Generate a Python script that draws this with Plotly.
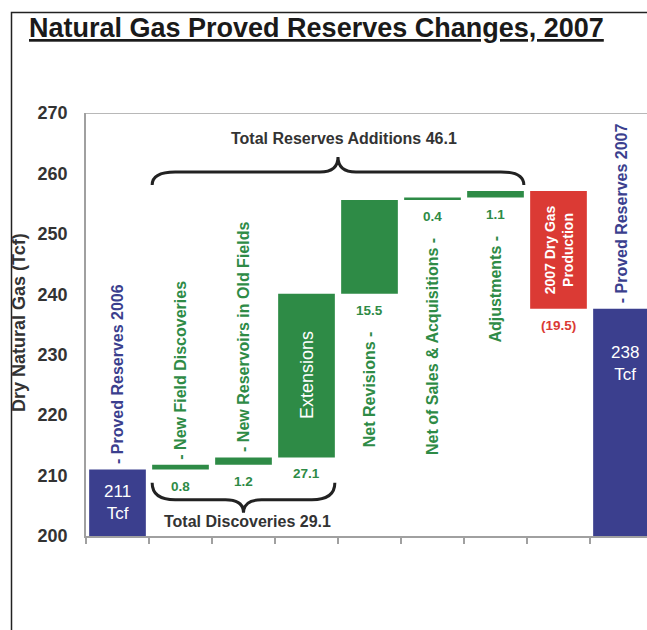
import plotly.graph_objects as go

# ---------------- data ----------------
categories = [
    "Proved Reserves 2006", "New Field Discoveries", "New Reservoirs in Old Fields",
    "Extensions", "Net Revisions", "Net of Sales & Acquisitions", "Adjustments",
    "2007 Dry Gas Production", "Proved Reserves 2007",
]
measures = ["absolute", "relative", "relative", "relative", "relative",
            "relative", "relative", "relative", "total"]
values = [211.0, 0.8, 1.2, 27.1, 15.5, 0.4, 1.1, -19.5, 237.6]
value_labels = ["211<br>Tcf", "0.8", "1.2", "27.1", "15.5", "0.4", "1.1", "(19.5)", "238<br>Tcf"]
name_labels = [
    "- Proved Reserves 2006", "- New Field Discoveries", "- New Reservoirs in Old Fields",
    "Extensions", "Net Revisions -", "Net of Sales & Acquisitions -", "Adjustments -",
    "2007 Dry Gas<br>Production", "- Proved Reserves 2007",
]
label_places = ["above", "above", "above", "inside", "below", "below", "below", "inside", "above"]
y_ticks = [200, 210, 220, 230, 240, 250, 260, 270]
brace_labels = ["Total Reserves Additions 46.1", "Total Discoveries 29.1"]
brace_spans = [(1, 6), (1, 3)]
brace_sides = ["top", "bottom"]
title_text = "Natural Gas Proved Reserves Changes, 2007"
y_title = "Dry Natural Gas (Tcf)"

# ---------------- style ----------------
NAVY = "#3b3f8e"
GREEN = "#2e8b46"
RED = "#db3a34"
DARK = "#222222"
AXIS_GRAY = "#a0a0a0"
FONT = "Liberation Sans, Arial, sans-serif"

W, H = 647, 630
ML, MR, MT, MB = 86, 0, 113, 94
YMIN, YMAX = 200, 270
XMIN = -0.5
CAT_PX = 63.0
XMAX = XMIN + (W - ML - MR) / CAT_PX
PX_PER_Y = (H - MT - MB) / (YMAX - YMIN)
PLOT_W = W - ML - MR
PLOT_H = H - MT - MB

def px_x(px):
    return (px - ML) / PLOT_W

def px_y(py):
    return (H - MB - py) / PLOT_H

# ---------------- bars ----------------
x = list(range(len(categories)))
bases, heights, colors = [], [], []
running = 0.0
for m, v in zip(measures, values):
    if m == "absolute":
        bases.append(0.0); heights.append(v); running = v; colors.append(NAVY)
    elif m == "total":
        bases.append(0.0); heights.append(running); colors.append(NAVY)
    else:
        b = running if v >= 0 else running + v
        bases.append(b); heights.append(abs(v)); running += v
        colors.append(GREEN if v >= 0 else RED)

fig = go.Figure()
fig.add_trace(go.Bar(
    x=x, y=heights, base=bases, width=0.9,
    marker=dict(color=colors, line=dict(width=0)),
    hoverinfo="skip", showlegend=False,
))

annotations = []
for i, (m, v) in enumerate(zip(measures, values)):
    top = bases[i] + heights[i]
    bot = max(bases[i], YMIN)
    place = label_places[i]
    lab_color = NAVY if m in ("absolute", "total") else (GREEN if v >= 0 else RED)
    # category name labels (rotated)
    if place == "above":
        annotations.append(dict(x=i, y=top, xref="x", yref="y", text=name_labels[i],
                                textangle=-90, showarrow=False, xanchor="center",
                                yanchor="bottom", yshift=3,
                                font=dict(family=FONT, size=16, color=lab_color, weight="bold")))
    elif place == "below":
        annotations.append(dict(x=i, y=bot, xref="x", yref="y", text=name_labels[i],
                                textangle=-90, showarrow=False, xanchor="center",
                                yanchor="top", yshift=-36,
                                font=dict(family=FONT, size=16, color=lab_color, weight="bold")))
    else:
        is_red = v < 0
        annotations.append(dict(x=i, y=(bot + top) / 2, xref="x", yref="y", text=name_labels[i],
                                textangle=-90, showarrow=False, xanchor="center",
                                yanchor="middle",
                                font=dict(family=FONT, size=14 if is_red else 18,
                                          color="white", weight="bold" if is_red else "normal")))
    # value labels
    if m == "absolute":
        annotations.append(dict(x=i, y=(bot + top) / 2, xref="x", yref="y", text=value_labels[i],
                                showarrow=False, xanchor="center", yanchor="middle",
                                font=dict(family=FONT, size=17, color="white")))
    elif m == "total":
        annotations.append(dict(x=i, y=top, xref="x", yref="y", text=value_labels[i],
                                showarrow=False, xanchor="center", yanchor="top", yshift=-32,
                                xshift=3, font=dict(family=FONT, size=17, color="white")))
    else:
        annotations.append(dict(x=i, y=bot, xref="x", yref="y", text=value_labels[i],
                                showarrow=False, xanchor="center", yanchor="top", yshift=-7,
                                font=dict(family=FONT, size=13.5, color=lab_color, weight="bold")))

# ---------------- braces ----------------
shapes = []
for (c0, c1), side, lab in zip(brace_spans, brace_sides, brace_labels):
    x0 = c0 - 0.45
    x1 = c1 + 0.45
    xc = (x0 + x1) / 2
    if side == "top":
        ref = max(bases[j] + heights[j] for j in range(c0, c1 + 1))
        y_end = ref + 1.0
        y_mid = y_end + 13 / PX_PER_Y
        y_peak = y_mid + 15 / PX_PER_Y
        lab_shift = 18
    else:
        ref = min(bases[j] for j in range(c0, c1 + 1))
        y_end = ref - 2.2
        y_mid = y_end - 17 / PX_PER_Y
        y_peak = y_mid - 13 / PX_PER_Y
        lab_shift = -9
    d1 = 23 / CAT_PX
    d2 = 18 / CAT_PX
    path = (f"M {x0},{y_end} Q {x0},{y_mid} {x0 + d1},{y_mid} "
            f"L {xc - d2},{y_mid} Q {xc},{y_mid} {xc},{y_peak} "
            f"Q {xc},{y_mid} {xc + d2},{y_mid} "
            f"L {x1 - d1},{y_mid} Q {x1},{y_mid} {x1},{y_end}")
    shapes.append(dict(type="path", xref="x", yref="y", path=path,
                       line=dict(color=DARK, width=3)))
    annotations.append(dict(x=xc, y=y_peak, xref="x", yref="y", text=lab, showarrow=False,
                            xanchor="center", yanchor="middle", yshift=lab_shift, xshift=6 if side == "top" else 4,
                            font=dict(family=FONT, size=16, color="#333333", weight="bold")))

# top border line of plot area
shapes.append(dict(type="line", xref="paper", yref="y", x0=0, x1=1, y0=YMAX, y1=YMAX,
                   line=dict(color=AXIS_GRAY, width=1.5)))
# outer frame
shapes.append(dict(type="rect", xref="paper", yref="paper",
                   x0=px_x(11.5), x1=1.5, y0=-0.6, y1=px_y(12.5),
                   line=dict(color=DARK, width=1.5), fillcolor="rgba(0,0,0,0)"))

# title and y-axis title
annotations.append(dict(x=px_x(27), y=px_y(28), xref="paper", yref="paper",
                        text="<u>" + title_text + "</u>", showarrow=False,
                        xanchor="left", yanchor="middle",
                        font=dict(family=FONT, size=27, color="#1a1a1a", weight="bold")))
annotations.append(dict(x=px_x(19), y=px_y(323), xref="paper", yref="paper",
                        text=y_title, showarrow=False, textangle=-90,
                        xanchor="center", yanchor="middle",
                        font=dict(family=FONT, size=18, color="#333333", weight="bold")))

fig.update_layout(
    width=W, height=H,
    margin=dict(l=ML, r=MR, t=MT, b=MB, autoexpand=False),
    paper_bgcolor="white", plot_bgcolor="white",
    bargap=0.1, showlegend=False,
    shapes=shapes, annotations=annotations,
    xaxis=dict(range=[XMIN, XMAX], showgrid=False, zeroline=False,
               showticklabels=False, tickmode="array",
               tickvals=[i - 0.5 for i in range(len(categories) + 1)],
               ticks="outside", ticklen=6, tickwidth=1.5, tickcolor=AXIS_GRAY,
               showline=True, linecolor=AXIS_GRAY, linewidth=1.5, fixedrange=True),
    yaxis=dict(range=[YMIN, YMAX], tickmode="array", tickvals=y_ticks,
               showgrid=False, zeroline=False, showline=True, linecolor=AXIS_GRAY,
               linewidth=1.5, ticks="", ticklabelstandoff=13,
               tickfont=dict(family=FONT, size=18, color="#333333", weight="bold"),
               fixedrange=True),
)

fig.write_html(
    "out.html",
    config={"displayModeBar": False},
    post_script="document.body.style.margin='0';document.body.style.overflow='hidden';",
)
